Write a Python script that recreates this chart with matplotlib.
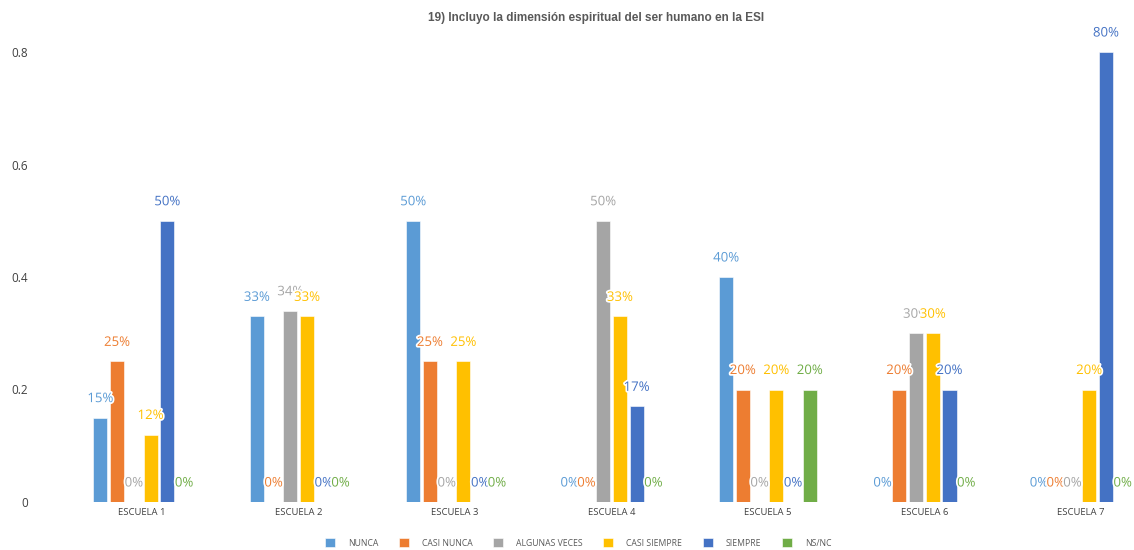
import matplotlib
matplotlib.use("Agg")
import matplotlib.pyplot as plt
import matplotlib.patheffects as pe
import numpy as np

plt.rcParams['font.family'] = ['Open Sans', 'DejaVu Sans']

categories = ["ESCUELA 1", "ESCUELA 2", "ESCUELA 3", "ESCUELA 4", "ESCUELA 5", "ESCUELA 6", "ESCUELA 7"]
series_names = ["NUNCA", "CASI NUNCA", "ALGUNAS VECES", "CASI SIEMPRE", "SIEMPRE", "NS/NC"]
nunca = [0.15, 0.33, 0.50, 0.00, 0.40, 0.00, 0.00]
casi_nunca = [0.25, 0.00, 0.25, 0.00, 0.20, 0.20, 0.00]
algunas_veces = [0.00, 0.34, 0.00, 0.50, 0.00, 0.30, 0.00]
casi_siempre = [0.12, 0.33, 0.25, 0.33, 0.20, 0.30, 0.20]
siempre = [0.50, 0.00, 0.00, 0.17, 0.00, 0.20, 0.80]
ns_nc = [0.00, 0.00, 0.00, 0.00, 0.20, 0.00, 0.00]
yticks = [0, 0.2, 0.4, 0.6, 0.8]
ytick_labels = ["0", "0.2", "0.4", "0.6", "0.8"]
title = "19) Incluyo la dimensión espiritual del ser humano en la ESI"

series = [nunca, casi_nunca, algunas_veces, casi_siempre, siempre, ns_nc]
colors = ["#5B9BD5", "#ED7D31", "#A5A5A5", "#FFC000", "#4472C4", "#70AD47"]

W, H = 1134, 550
fig = plt.figure(figsize=(W / 100, H / 100), dpi=100)
# axes in pixel coordinates: left 64, right 1159, bottom y=0 at 502
left, right = 64, 1159
bottom_px, top_px = 502, 7
ax = fig.add_axes([left / W, (H - bottom_px) / H, (right - left) / W, (bottom_px - top_px) / H])
ymax = 0.8 * (bottom_px - top_px) / (502 - 52)
ax.set_ylim(0, ymax)
ax.set_xlim(-0.5, len(categories) - 0.5)

x = np.arange(len(categories))
pitch = 0.107
width = 0.09
label_off = 0.8 * 19 / 450
for i, (name, vals, c) in enumerate(zip(series_names, series, colors)):
    xs = x + (i - 2.5) * pitch
    ax.bar(xs, vals, width=width, color=c, label=name, edgecolor='white', linewidth=0.4)
    for xi, v in zip(xs, vals):
        ax.text(xi, v + label_off, f"{round(v*100):.0f}%", ha='center', va='center',
                fontsize=9.5, color=c,
                path_effects=[pe.withStroke(linewidth=2.5, foreground='white')])

ax.set_yticks(yticks)
ax.set_yticklabels(ytick_labels)
ax.set_xticks(x)
ax.set_xticklabels(categories)
ax.tick_params(axis='y', length=0, pad=26, labelsize=8.5, labelcolor='#404040')
ax.tick_params(axis='x', length=0, pad=4, labelsize=6.8, labelcolor='#404040')
for s in ax.spines.values():
    s.set_visible(False)

fig.text(596 / W, 1 - 18 / H, title, ha='center', va='center', fontsize=8.5,
         fontweight='bold', color='#595959', family=['Liberation Sans', 'DejaVu Sans'])

leg = fig.legend(loc='center', bbox_to_anchor=(578 / W, 1 - 543 / H), ncol=6, frameon=False,
                 fontsize=6.2, handlelength=1.16, handleheight=1.16, columnspacing=2.4,
                 handletextpad=1.5)
for t in leg.get_texts():
    t.set_color('#595959')

fig.savefig("out.png", dpi=100)
